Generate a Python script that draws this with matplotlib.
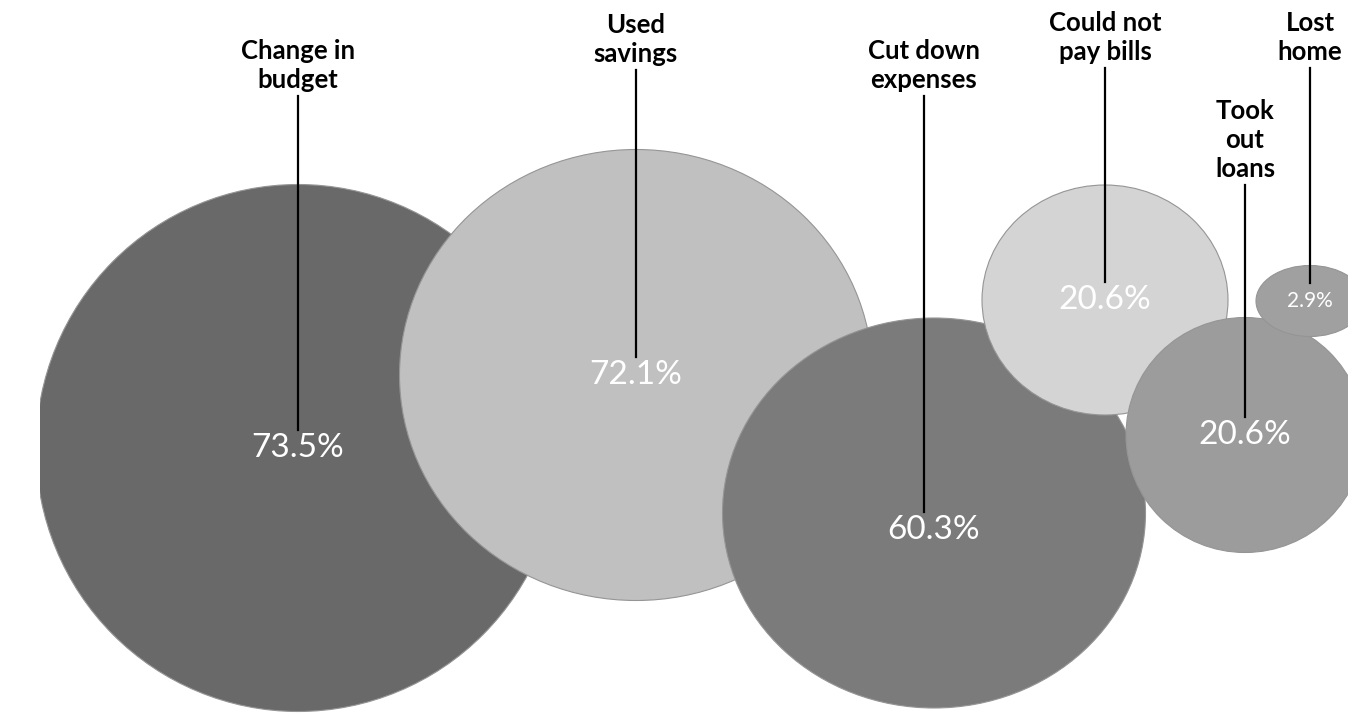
import matplotlib.pyplot as plt
from matplotlib.patches import Ellipse

plt.rcParams['font.family'] = ['Lato', 'DejaVu Sans']

# bubble data (chart units)
labels = ["Change in\nbudget", "Used\nsavings", "Cut down\nexpenses",
          "Could not\npay bills", "Took\nout\nloans", "Lost\nhome"]
pct = [73.5, 72.1, 60.3, 20.6, 20.6, 2.9]
bubble_x = [29.8, 63.6, 93.4, 110.5, 124.5, 131.0]
bubble_y = [26.6, 33.9, 20.1, 41.4, 27.9, 41.3]
bubble_w = [52.4, 47.3, 42.3, 24.6, 23.8, 10.8]
bubble_h = [52.7, 45.1, 39.0, 23.0, 23.5, 7.1]
leader_x = [29.8, 63.6, 92.4, 110.5, 124.5, 131.0]
leader_top = [61.8, 64.4, 61.8, 64.6, 52.9, 64.6]

colors = ['#696969', '#c0c0c0', '#7b7b7b', '#d4d4d4', '#9c9c9c', '#a0a0a0']
pct_sizes = [24, 24, 24, 24, 24, 15]
pct_dy = [0, 0, -1.7, 0, 0, 0]

fig = plt.figure(figsize=(13.48, 7.14), dpi=100)
# plot area starts a little in from the left edge, bubbles get clipped there
ax = fig.add_axes([40 / 1348, 0, 1 - 40 / 1348, 1])
ax.set_xlim(4.0, 134.8)
ax.set_ylim(0, 71.4)
ax.axis('off')

for i in range(len(pct)):
    z = 2 + i
    e = Ellipse((bubble_x[i], bubble_y[i]), bubble_w[i], bubble_h[i],
                facecolor=colors[i], edgecolor='#959595', lw=0.8, zorder=z)
    ax.add_patch(e)
    ty = bubble_y[i] + pct_dy[i]
    ax.text(bubble_x[i], ty, f"{pct[i]}%", color='white',
            fontsize=pct_sizes[i], ha='center', va='center', zorder=20)
    # leader line from the category label down to the value
    ax.plot([leader_x[i], leader_x[i]], [leader_top[i], ty + 1.8],
            color='black', lw=1.6, zorder=15, clip_on=False)
    ax.text(leader_x[i], leader_top[i] + 0.4, labels[i], fontsize=18.5,
            fontweight='bold', ha='center', va='bottom', linespacing=1.25,
            zorder=20)

fig.savefig('out.png', dpi=100)
